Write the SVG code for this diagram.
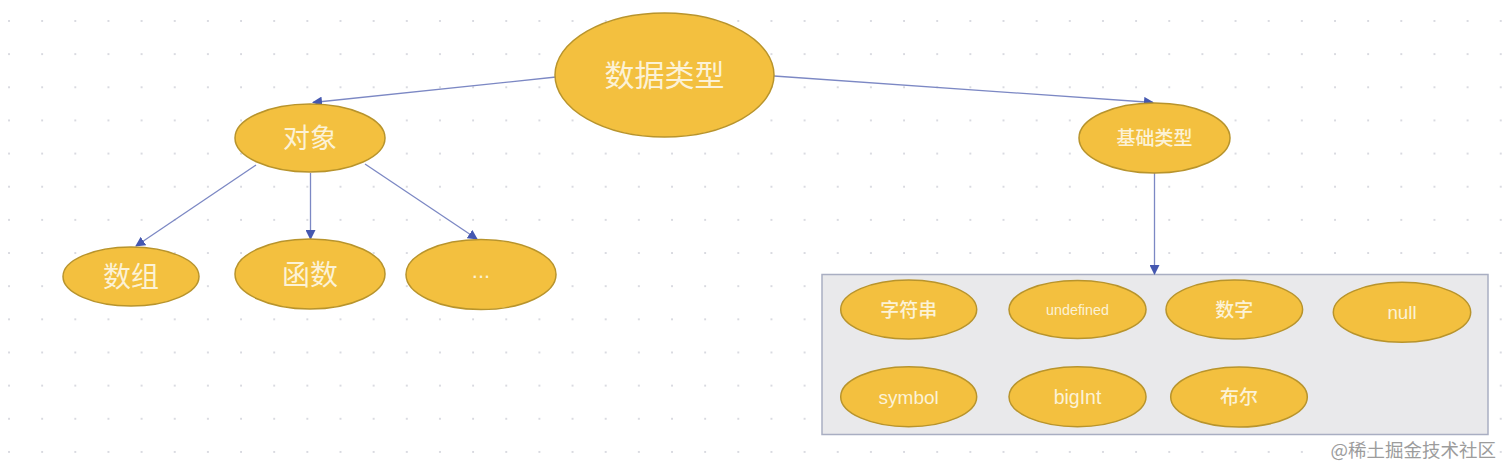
<svg xmlns="http://www.w3.org/2000/svg" width="1512" height="474" viewBox="0 0 1512 474">
  <defs>
    <pattern id="dots" x="8" y="20" width="33.15" height="33.15" patternUnits="userSpaceOnUse">
      <circle cx="1" cy="1" r="1" fill="#cfd0d8"/>
    </pattern>
    <marker id="arr" viewBox="0 0 10 10" refX="9" refY="5" markerWidth="10" markerHeight="10" markerUnits="userSpaceOnUse" orient="auto">
      <path d="M0,0 L10,5 L0,10 Z" fill="#4558b0"/>
    </marker>
  </defs>
  <style>
    .node ellipse { fill: #f3c03f; stroke: #b8942c; stroke-width: 1.5; }
    .node text { fill: #fcf2d6; font-family: "Liberation Sans", "Noto Sans CJK SC", sans-serif; text-anchor: middle; }
    .node text.m { font-weight: 500; }
    .conn line { stroke: #7c88c4; stroke-width: 1.3; marker-end: url(#arr); }
  </style>
  <rect width="1512" height="474" fill="#ffffff"/>
  <rect width="1512" height="474" fill="url(#dots)"/>

  <g id="container">
    <rect x="822" y="274.5" width="666" height="160" fill="#e9e9eb" stroke="#a9aec2" stroke-width="1.5"/>
  </g>

  <g id="connectors" class="conn">
    <line x1="556" y1="77" x2="313" y2="102.5"/>
    <line x1="774" y1="76" x2="1153" y2="102.5"/>
    <line x1="256" y1="165" x2="136" y2="246"/>
    <line x1="310.5" y1="173" x2="310.5" y2="239"/>
    <line x1="365" y1="164" x2="477" y2="239"/>
    <line x1="1154.5" y1="173" x2="1154.5" y2="274"/>
  </g>

  <g id="n-shujuleixing" class="node">
    <ellipse cx="664.5" cy="75" rx="109.5" ry="62"/>
    <text x="664.5" y="86" font-size="30">数据类型</text>
  </g>
  <g id="n-duixiang" class="node">
    <ellipse cx="310" cy="138" rx="75" ry="34"/>
    <text x="310" y="148" font-size="27">对象</text>
  </g>
  <g id="n-shuzu" class="node">
    <ellipse cx="131" cy="276.5" rx="68" ry="29.5"/>
    <text x="131" y="287" font-size="28">数组</text>
  </g>
  <g id="n-hanshu" class="node">
    <ellipse cx="310" cy="274" rx="75" ry="35"/>
    <text x="310" y="284.5" font-size="28">函数</text>
  </g>
  <g id="n-more" class="node">
    <ellipse cx="481" cy="274.5" rx="75" ry="35"/>
    <text x="481" y="278" font-size="22">...</text>
  </g>
  <g id="n-jichuleixing" class="node">
    <ellipse cx="1154.5" cy="138" rx="75.5" ry="35"/>
    <text class="m" x="1154.5" y="145" font-size="19">基础类型</text>
  </g>
  <g id="n-zifuchuan" class="node">
    <ellipse cx="908.7" cy="309.5" rx="68" ry="29.5"/>
    <text class="m" x="908.7" y="316.5" font-size="19">字符串</text>
  </g>
  <g id="n-undefined" class="node">
    <ellipse cx="1077.5" cy="309.5" rx="68.5" ry="29"/>
    <text x="1077.5" y="315" font-size="14.3">undefined</text>
  </g>
  <g id="n-shuzi" class="node">
    <ellipse cx="1234.3" cy="309.5" rx="68.3" ry="29.5"/>
    <text class="m" x="1234.3" y="316.5" font-size="19">数字</text>
  </g>
  <g id="n-null" class="node">
    <ellipse cx="1402" cy="312.3" rx="68.7" ry="30"/>
    <text x="1402" y="319" font-size="18.8">null</text>
  </g>
  <g id="n-symbol" class="node">
    <ellipse cx="908.7" cy="396.7" rx="68" ry="30"/>
    <text x="908.7" y="403.5" font-size="19">symbol</text>
  </g>
  <g id="n-bigint" class="node">
    <ellipse cx="1077.5" cy="396.7" rx="68.5" ry="30"/>
    <text x="1077.5" y="403.5" font-size="19.5">bigInt</text>
  </g>
  <g id="n-buer" class="node">
    <ellipse cx="1239" cy="397" rx="68.3" ry="30"/>
    <text class="m" x="1239" y="404" font-size="19">布尔</text>
  </g>

  <text x="1496" y="457" font-size="18.5" fill="#9c9c9c" text-anchor="end" font-family="'Noto Sans CJK SC', 'Liberation Sans', sans-serif">@稀土掘金技术社区</text>
</svg>
